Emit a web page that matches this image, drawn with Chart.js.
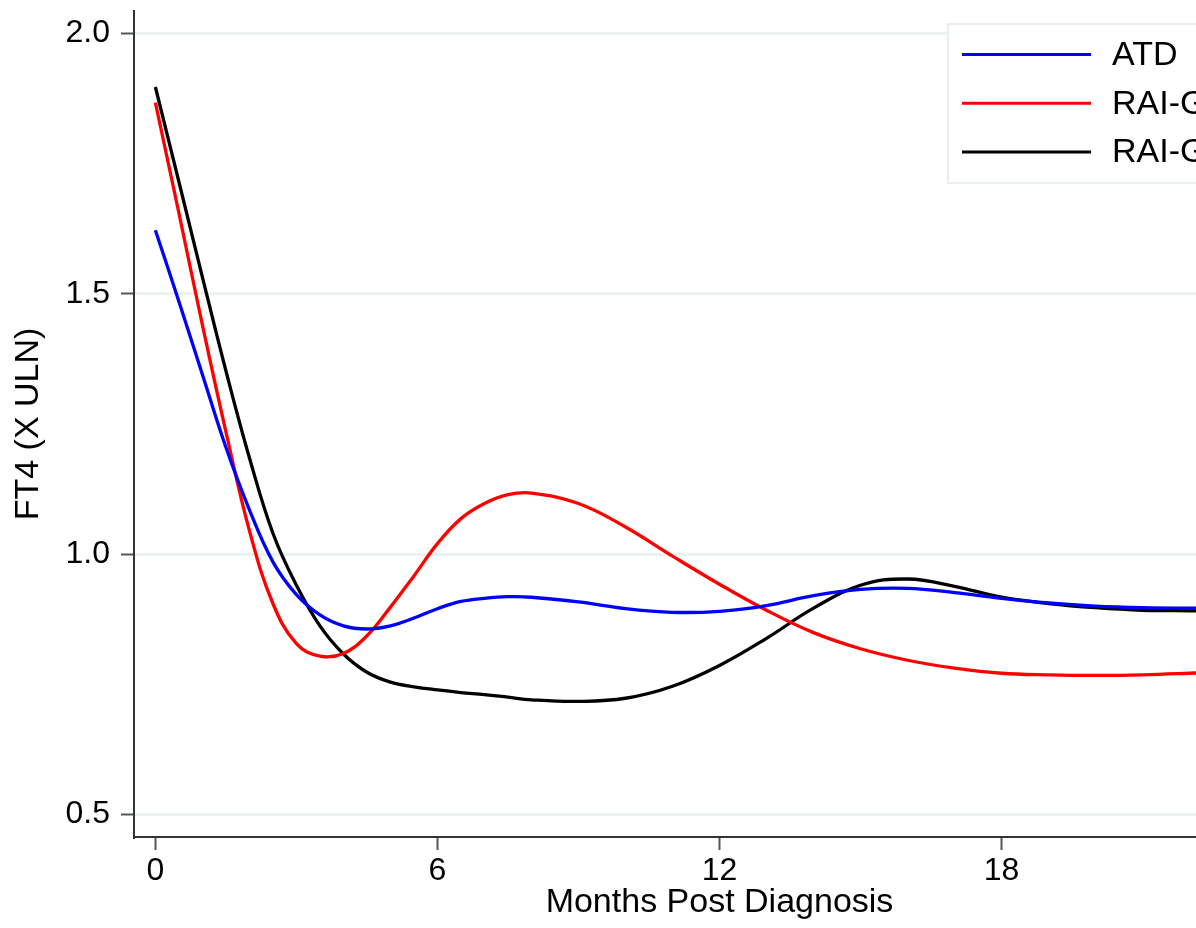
<!DOCTYPE html>
<html><head><meta charset="utf-8">
<script src="https://cdn.jsdelivr.net/npm/chart.js@4.4.0/dist/chart.umd.min.js"></script>
<style>
html,body{margin:0;padding:0;background:#fff;overflow:hidden;width:1196px;height:928px}
#wrap{position:relative;width:1320px;height:928px}
</style></head>
<body><div id="wrap"><canvas id="c" width="1320" height="928"></canvas></div>
<script>
const months = [0,0.5,1,1.5,2,2.5,3,3.5,4,4.5,5,5.5,6,6.5,7,7.5,8,9,10,11,12,13,14,15,16,17,18,19,20,21,22,22.5];
const atd   = [1.622,1.485,1.345,1.205,1.085,0.985,0.922,0.883,0.862,0.856,0.862,0.877,0.895,0.909,0.915,0.918,0.917,0.908,0.895,0.888,0.890,0.901,0.920,0.932,0.934,0.926,0.915,0.906,0.900,0.897,0.896,0.896];
const raiG1 = [1.867,1.655,1.44,1.235,1.045,0.905,0.828,0.804,0.809,0.843,0.898,0.958,1.02,1.068,1.097,1.114,1.117,1.097,1.052,0.996,0.942,0.892,0.849,0.818,0.796,0.781,0.771,0.768,0.767,0.768,0.771,0.773];
const raiG2 = [1.897,1.715,1.532,1.352,1.185,1.04,0.94,0.862,0.808,0.773,0.754,0.745,0.739,0.734,0.730,0.725,0.720,0.717,0.723,0.746,0.786,0.838,0.896,0.940,0.952,0.938,0.917,0.905,0.897,0.892,0.891,0.891];
const seriesNames = ['ATD','RAI-Gr1','RAI-Gr2'];
const seriesColors = ['#0000ff','#ff0000','#000000'];
const xTicks = [0,6,12,18,24];
const yTicks = [0.5,1.0,1.5,2.0];
const xTitle = 'Months Post Diagnosis';
const yTitle = 'FT4 (X ULN)';

const FONT = '"Liberation Sans", Arial, sans-serif';
Chart.defaults.font.family = FONT;
Chart.defaults.color = '#000';

const series = [atd, raiG1, raiG2];
const datasets = series.map((vals,i)=>({
  label: seriesNames[i],
  data: months.map((m,j)=>({x:m, y:vals[j]})),
  borderColor: seriesColors[i],
  backgroundColor: seriesColors[i],
  borderWidth: 3.3,
  pointRadius: 0,
  fill: false,
  tension: 0.4,
  cubicInterpolationMode: 'default'
}));

const boxLegend = {
  id:'boxLegend',
  afterDatasetsDraw(chart){
    const ctx = chart.ctx;
    ctx.save();
    const x0=948, y0=24, w=343, h=159;
    ctx.fillStyle='#fff'; ctx.fillRect(x0,y0,w,h);
    ctx.strokeStyle='#e8efef'; ctx.lineWidth=2; ctx.strokeRect(x0,y0,w,h);
    chart.data.datasets.forEach((ds,i)=>{
      const y = 54.5 + i*48.7;
      ctx.strokeStyle = ds.borderColor; ctx.lineWidth = 3;
      ctx.beginPath(); ctx.moveTo(962,y); ctx.lineTo(1091,y); ctx.stroke();
      ctx.fillStyle='#000'; ctx.font='34px '+FONT; ctx.textBaseline='middle'; ctx.textAlign='left';
      ctx.fillText(ds.label, 1112, y+1);
    });
    ctx.restore();
  }
};

new Chart(document.getElementById('c'), {
  type:'line',
  data:{datasets},
  plugins:[boxLegend],
  options:{
    responsive:false,
    animation:false,
    devicePixelRatio:1,
    layout:{padding:{top:11,right:15,left:0,bottom:0}},
    plugins:{legend:{display:false},tooltip:{enabled:false}},
    scales:{
      x:{
        type:'linear', min:-0.455, max:24.455,
        afterBuildTicks(s){ s.ticks = xTicks.map(v=>({value:v})); },
        afterFit(s){ s.height = 91; s.paddingLeft = 0; s.paddingRight = 0; },
        ticks:{font:{size:32}, color:'#000', padding:2, maxRotation:0, autoSkip:false, callback:v=>String(v)},
        grid:{display:true, drawOnChartArea:false, drawTicks:true, tickLength:13, tickColor:'#555', tickWidth:2},
        border:{display:true, color:'#333', width:2},
        title:{display:true, text:xTitle, font:{size:34}, color:'#000', padding:{top:0,bottom:5}}
      },
      y:{
        type:'linear', min:0.4565, max:2.043,
        afterBuildTicks(s){ s.ticks = yTicks.map(v=>({value:v})); },
        afterFit(s){ s.width = 134; s.paddingTop = 0; s.paddingBottom = 0; },
        ticks:{font:{size:32}, color:'#000', padding:11, autoSkip:false, callback:v=>Number(v).toFixed(1)},
        grid:{display:true, drawOnChartArea:true, color:'#e9f1f1', lineWidth:3, drawTicks:true, tickLength:13, tickColor:'#555', tickWidth:2},
        border:{display:true, color:'#333', width:2},
        title:{display:true, text:yTitle, font:{size:34}, color:'#000', padding:{top:8,bottom:0}}
      }
    }
  }
});
</script>
</body></html>
